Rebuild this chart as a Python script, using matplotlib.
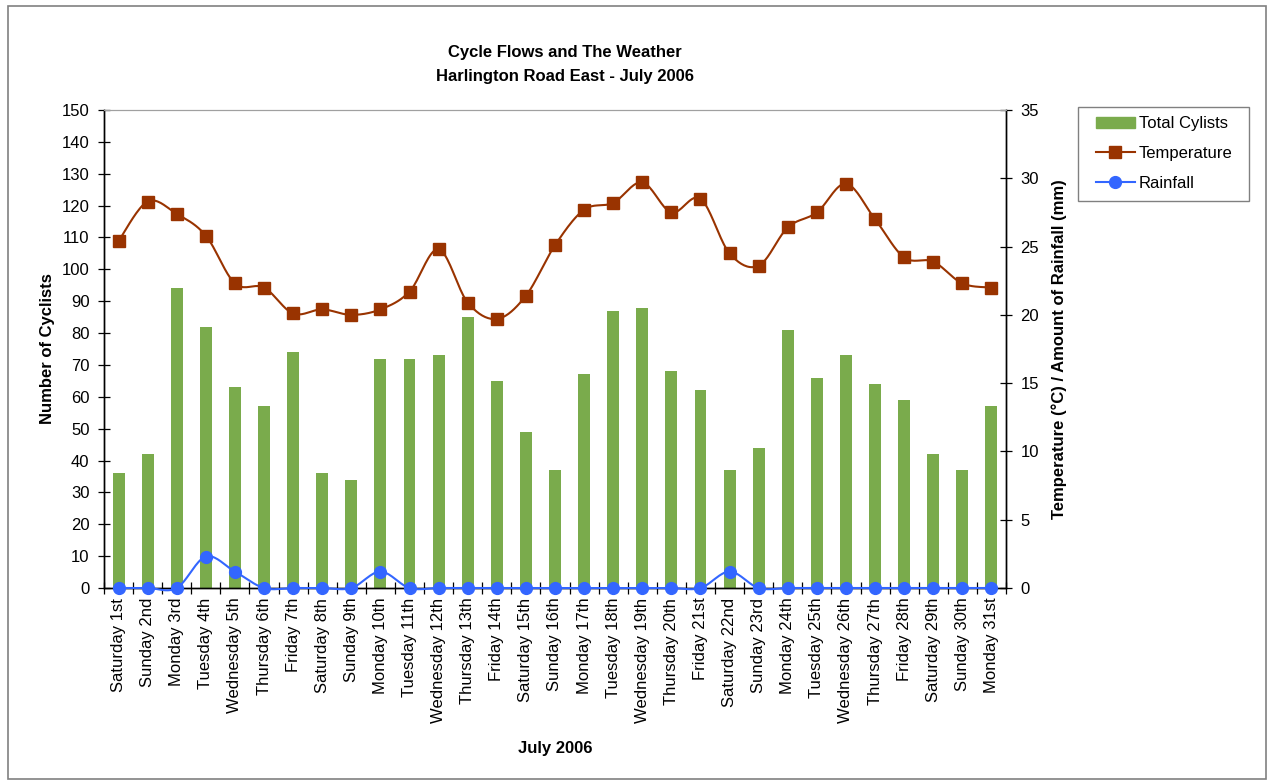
import numpy as np
import matplotlib
matplotlib.use("Agg")
import matplotlib.pyplot as plt
from matplotlib.lines import Line2D
from matplotlib.patches import Patch, Rectangle

plt.rcParams['font.family'] = ['Liberation Sans', 'DejaVu Sans']

days = ['Saturday 1st', 'Sunday 2nd', 'Monday 3rd', 'Tuesday 4th', 'Wednesday 5th',
        'Thursday 6th', 'Friday 7th', 'Saturday 8th', 'Sunday 9th', 'Monday 10th',
        'Tuesday 11th', 'Wednesday 12th', 'Thursday 13th', 'Friday 14th', 'Saturday 15th',
        'Sunday 16th', 'Monday 17th', 'Tuesday 18th', 'Wednesday 19th', 'Thursday 20th',
        'Friday 21st', 'Saturday 22nd', 'Sunday 23rd', 'Monday 24th', 'Tuesday 25th',
        'Wednesday 26th', 'Thursday 27th', 'Friday 28th', 'Saturday 29th', 'Sunday 30th',
        'Monday 31st']
cyclists = [36, 42, 94, 82, 63, 57, 74, 36, 34, 72, 72, 73, 85, 65, 49, 37,
            67, 87, 88, 68, 62, 37, 44, 81, 66, 73, 64, 59, 42, 37, 57]
temperature = [25.4, 28.3, 27.4, 25.8, 22.3, 22.0, 20.1, 20.4, 20.0, 20.4, 21.7,
               24.8, 20.9, 19.7, 21.4, 25.1, 27.7, 28.2, 29.7, 27.5, 28.5, 24.5,
               23.6, 26.4, 27.5, 29.6, 27.0, 24.2, 23.9, 22.3, 22.0]
rainfall = [0, 0, 0, 2.3, 1.2, 0, 0, 0, 0, 1.2, 0, 0, 0, 0, 0, 0,
            0, 0, 0, 0, 0, 1.2, 0, 0, 0, 0, 0, 0, 0, 0, 0]

GREEN = '#7aab4c'
BROWN = '#993300'
BLUE = '#3366ff'
FS = 12
W, H = 1270, 783


def smooth(x, y, n=20):
    # catmull-rom curve through the points, like excel's smoothed line
    x = np.asarray(x, float)
    y = np.asarray(y, float)
    px = np.concatenate([[x[0]], x, [x[-1]]])
    py = np.concatenate([[y[0]], y, [y[-1]]])
    xs, ys = [], []
    t = np.linspace(0, 1, n, endpoint=False)
    for i in range(1, len(px) - 2):
        for p, out in ((px, xs), (py, ys)):
            p0, p1, p2, p3 = p[i - 1], p[i], p[i + 1], p[i + 2]
            out.extend(0.5 * ((2 * p1) + (-p0 + p2) * t
                              + (2 * p0 - 5 * p1 + 4 * p2 - p3) * t ** 2
                              + (-p0 + 3 * p1 - 3 * p2 + p3) * t ** 3))
    xs.append(x[-1])
    ys.append(y[-1])
    return np.array(xs), np.array(ys)


fig = plt.figure(figsize=(12.7, 7.83), dpi=100)
fig.patches.append(Rectangle((0.006, 0.005), 0.991, 0.987, transform=fig.transFigure,
                             fill=False, edgecolor='#808080', linewidth=1.2))

ax = fig.add_axes([104 / W, 1 - 588 / H, 902 / W, 478 / H])
ax2 = ax.twinx()

x = np.arange(len(days))
ax.bar(x, cyclists, width=0.41, color=GREEN, zorder=2)
ax.set_xlim(-0.5, len(days) - 0.5)
ax.set_ylim(0, 150)
ax.set_yticks(range(0, 151, 10))
ax.set_xticks(x)
ax.set_xticklabels(days, rotation=90, fontsize=FS)
ax.set_xticks(np.arange(-0.5, len(days), 1), minor=True)
ax.tick_params(axis='x', which='major', length=0, pad=7)
ax.tick_params(axis='x', which='minor', direction='inout', length=9, width=0.9)
ax.tick_params(axis='y', direction='inout', length=9, width=0.9, labelsize=FS, pad=6)
ax.set_ylabel('Number of Cyclists', fontsize=FS, fontweight='bold', labelpad=4.5)
ax.set_xlabel('July 2006', fontsize=FS, fontweight='bold', labelpad=13)

sx, sy = smooth(x, temperature)
ax2.plot(sx, sy, color=BROWN, lw=1.5, zorder=3)
ax2.plot(x, temperature, 's', color=BROWN, ms=8.5, zorder=4)
rx, ry = smooth(x, rainfall)
ax2.plot(rx, ry, color=BLUE, lw=1.5, zorder=5)
ax2.plot(x, rainfall, 'o', color=BLUE, ms=8.5, zorder=6)
ax2.set_ylim(0, 35)
ax2.set_yticks(range(0, 36, 5))
ax2.tick_params(axis='y', direction='inout', length=9, width=0.9, labelsize=FS, pad=6)
ax2.set_ylabel('Temperature (°C) / Amount of Rainfall (mm)', fontsize=FS,
               fontweight='bold', labelpad=9)

for a in (ax, ax2):
    a.spines['top'].set_color('#a0a0a0')
    for s in ('left', 'right', 'bottom'):
        a.spines[s].set_linewidth(1.0)
for ln in ax2.lines:
    ln.set_clip_on(False)

fig.text(565 / W, 1 - 52 / H, 'Cycle Flows and The Weather', ha='center', va='center',
         fontsize=FS, fontweight='bold')
fig.text(565 / W, 1 - 77 / H, 'Harlington Road East - July 2006', ha='center',
         va='center', fontsize=FS, fontweight='bold')

# legend frame drawn separately so its size can match the original box
fig.patches.append(Rectangle((1078 / W, 1 - 201 / H), 171 / W, 94 / H,
                             transform=fig.transFigure, fill=False,
                             edgecolor='#808080', linewidth=1.0))
handles = [Patch(color=GREEN),
           Line2D([], [], color=BROWN, marker='s', ms=8.5, lw=1.5),
           Line2D([], [], color=BLUE, marker='o', ms=8.5, lw=1.5)]
labels = ['Total Cylists', 'Temperature', 'Rainfall']
fig.legend(handles, labels, loc='upper left', bbox_to_anchor=(1087 / W, 1 - 107 / H),
           borderaxespad=0, fontsize=FS, frameon=False, handlelength=2.3,
           borderpad=0.55, labelspacing=0.9, handletextpad=0.25)

fig.savefig('out.png', dpi=100)
